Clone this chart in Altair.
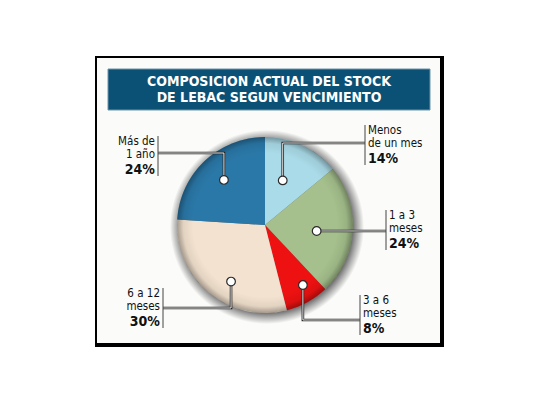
import math
import altair as alt
import pandas as pd

# ---------------- data ----------------
categories = ["Menos de un mes", "1 a 3 meses", "3 a 6 meses", "6 a 12 meses", "Más de 1 año"]
label_lines = [["Menos", "de un mes"], ["1 a 3", "meses"], ["3 a 6", "meses"], ["6 a 12", "meses"], ["Más de", "1 año"]]
shares = [14, 24, 8, 30, 24]
colors = ["#aadbe8", "#a5c08c", "#ee1111", "#f3e2cf", "#2a78a8"]
title_lines = ["COMPOSICION ACTUAL DEL STOCK", "DE LEBAC SEGUN VENCIMIENTO"]

# ---------------- layout ----------------
W, H = 540, 405
CX, CY, R = 265, 225, 88
FONT = "DejaVu Sans Condensed, Liberation Sans Narrow, sans-serif"
# per slice: fraction along slice for dot, dot radius, side, bar x, text top, leader y
layout = [
    dict(frac=0.43, rdot=48, side="right", bar_x=365, top=131, lead_y=143),
    dict(frac=0.535, rdot=52, side="right", bar_x=386, top=216, lead_y=None),
    dict(frac=0.38, rdot=71, side="right", bar_x=360, top=301, lead_y=320),
    dict(frac=0.42, rdot=66, side="left", bar_x=163, top=294, lead_y=308),
    dict(frac=0.51, rdot=61, side="left", bar_x=158, top=142, lead_y=153),
]

pie_df = pd.DataFrame({"cat": categories, "share": shares, "idx": range(len(categories))})

total = sum(shares)
cum = 0
dots, paths, bars, texts = [], [], [], []
for i, (cat, v, lines, lay) in enumerate(zip(categories, shares, label_lines, layout)):
    a = (cum + v * lay["frac"]) / total * 2 * math.pi
    cum += v
    dx = CX + lay["rdot"] * math.sin(a)
    dy = CY - lay["rdot"] * math.cos(a)
    dots.append({"cat": cat, "x": dx, "y": dy})
    ly = dy if lay["lead_y"] is None else lay["lead_y"]
    pts = [(dx, dy), (dx, ly), (lay["bar_x"], ly)]
    for k, (px, py) in enumerate(pts):
        paths.append({"cat": cat, "o": k, "x": px, "y": py})
    t = lay["top"]
    bars.append({"cat": cat, "x": lay["bar_x"], "y": t - 6, "y2": t + 34})
    sgn = 1 if lay["side"] == "right" else -1
    tx = lay["bar_x"] + sgn * 3
    texts.append({"x": tx, "y": t, "text": lines[0], "side": lay["side"], "bold": 0})
    texts.append({"x": tx, "y": t + 13, "text": lines[1], "side": lay["side"], "bold": 0})
    texts.append({"x": tx, "y": t + 27.5, "text": f"{v}%", "side": lay["side"], "bold": 1})

dots_df = pd.DataFrame(dots)
paths_df = pd.DataFrame(paths)
bars_df = pd.DataFrame(bars)
texts_df = pd.DataFrame(texts)
title_df = pd.DataFrame({"text": title_lines, "x": [269, 269], "y": [82, 98]})
one = pd.DataFrame({"a": [0]})

xs = alt.Scale(domain=[0, W], nice=False, zero=False)
ys = alt.Scale(domain=[0, H], nice=False, zero=False, reverse=True)
X = lambda f="x": alt.X(f"{f}:Q", scale=xs, axis=None)
Y = lambda f="y": alt.Y(f"{f}:Q", scale=ys, axis=None)

# frame
frame_outer = alt.Chart(one).mark_rect(color="#000000").encode(
    x=alt.value(95), x2=alt.value(444), y=alt.value(56), y2=alt.value(347))
frame_inner = alt.Chart(one).mark_rect(color="#fbfcf9").encode(
    x=alt.value(97), x2=alt.value(440), y=alt.value(58), y2=alt.value(343))
banner = alt.Chart(one).mark_rect(color="#0b5176", stroke="#6f93a8", strokeWidth=1).encode(
    x=alt.value(108), x2=alt.value(430), y=alt.value(69), y2=alt.value(110))
title = alt.Chart(title_df).mark_text(
    color="white", font=FONT, fontSize=14, fontWeight="bold", baseline="middle", align="center"
).encode(x=X(), y=Y(), text="text:N")

# pie shadow
shadow = alt.Chart(one).mark_arc(
    theta=0, theta2=2 * math.pi, radius=97,
    fill=alt.RadialGradient(
        gradient="radial", x1=0.5, y1=0.5, r1=0.44, x2=0.5, y2=0.5, r2=0.5,
        stops=[alt.GradientStop(offset=0, color="#6e6e6e"),
               alt.GradientStop(offset=0.4, color="#a9a9a9"),
               alt.GradientStop(offset=1, color="#fbfcf9")]),
).encode(x=alt.value(CX + 2), y=alt.value(CY + 2))

pie = alt.Chart(pie_df).mark_arc(radius=R).encode(
    theta=alt.Theta("share:Q", stack=True),
    color=alt.Color("cat:N", scale=alt.Scale(domain=categories, range=colors), legend=None),
    order=alt.Order("idx:Q"),
    x=alt.value(CX), y=alt.value(CY),
)

rim = alt.Chart(one).mark_arc(
    theta=0, theta2=2 * math.pi, radius=R, radius2=72,
    fill=alt.RadialGradient(
        gradient="radial", x1=0.5, y1=0.5, r1=0.41, x2=0.5, y2=0.5, r2=0.5,
        stops=[alt.GradientStop(offset=0, color="rgba(0,0,0,0)"),
               alt.GradientStop(offset=0.6, color="rgba(0,0,0,0.07)"),
               alt.GradientStop(offset=1, color="rgba(0,0,0,0.32)")]),
).encode(x=alt.value(CX), y=alt.value(CY))

# leaders
lead_dark = alt.Chart(paths_df).mark_line(color="#222222", strokeWidth=2.6, strokeJoin="miter").encode(
    x=X(), y=Y(), detail="cat:N", order="o:Q")
lead_white = alt.Chart(paths_df).mark_line(color="white", strokeWidth=0.9, strokeJoin="miter").encode(
    x=X(), y=Y(), detail="cat:N", order="o:Q")
dot_marks = alt.Chart(dots_df).mark_point(
    filled=True, fill="white", stroke="#2a2a2a", strokeWidth=1.2, size=75, opacity=1
).encode(x=X(), y=Y())
bar_marks = alt.Chart(bars_df).mark_rule(color="#444444", strokeWidth=1).encode(
    x=X(), y=Y(), y2="y2:Q")

def txt(side, bold):
    return alt.Chart(texts_df).transform_filter(
        f"datum.side == '{side}' && datum.bold == {bold}"
    ).mark_text(
        font=FONT, fontSize=14 if bold else 11.5, fontWeight="bold" if bold else "normal",
        color="#111111", align="left" if side == "right" else "right", baseline="middle"
    ).encode(x=X(), y=Y(), text="text:N")

chart = alt.layer(
    frame_outer, frame_inner, banner, title, shadow, pie, rim,
    lead_dark, lead_white, dot_marks, bar_marks,
    txt("right", 0), txt("right", 1), txt("left", 0), txt("left", 1),
).properties(
    width=W, height=H, padding=0, autosize=alt.AutoSizeParams(type="none"), background="white"
).configure_view(stroke=None)

chart.save("out.html", embed_options={"renderer": "svg", "actions": False})
